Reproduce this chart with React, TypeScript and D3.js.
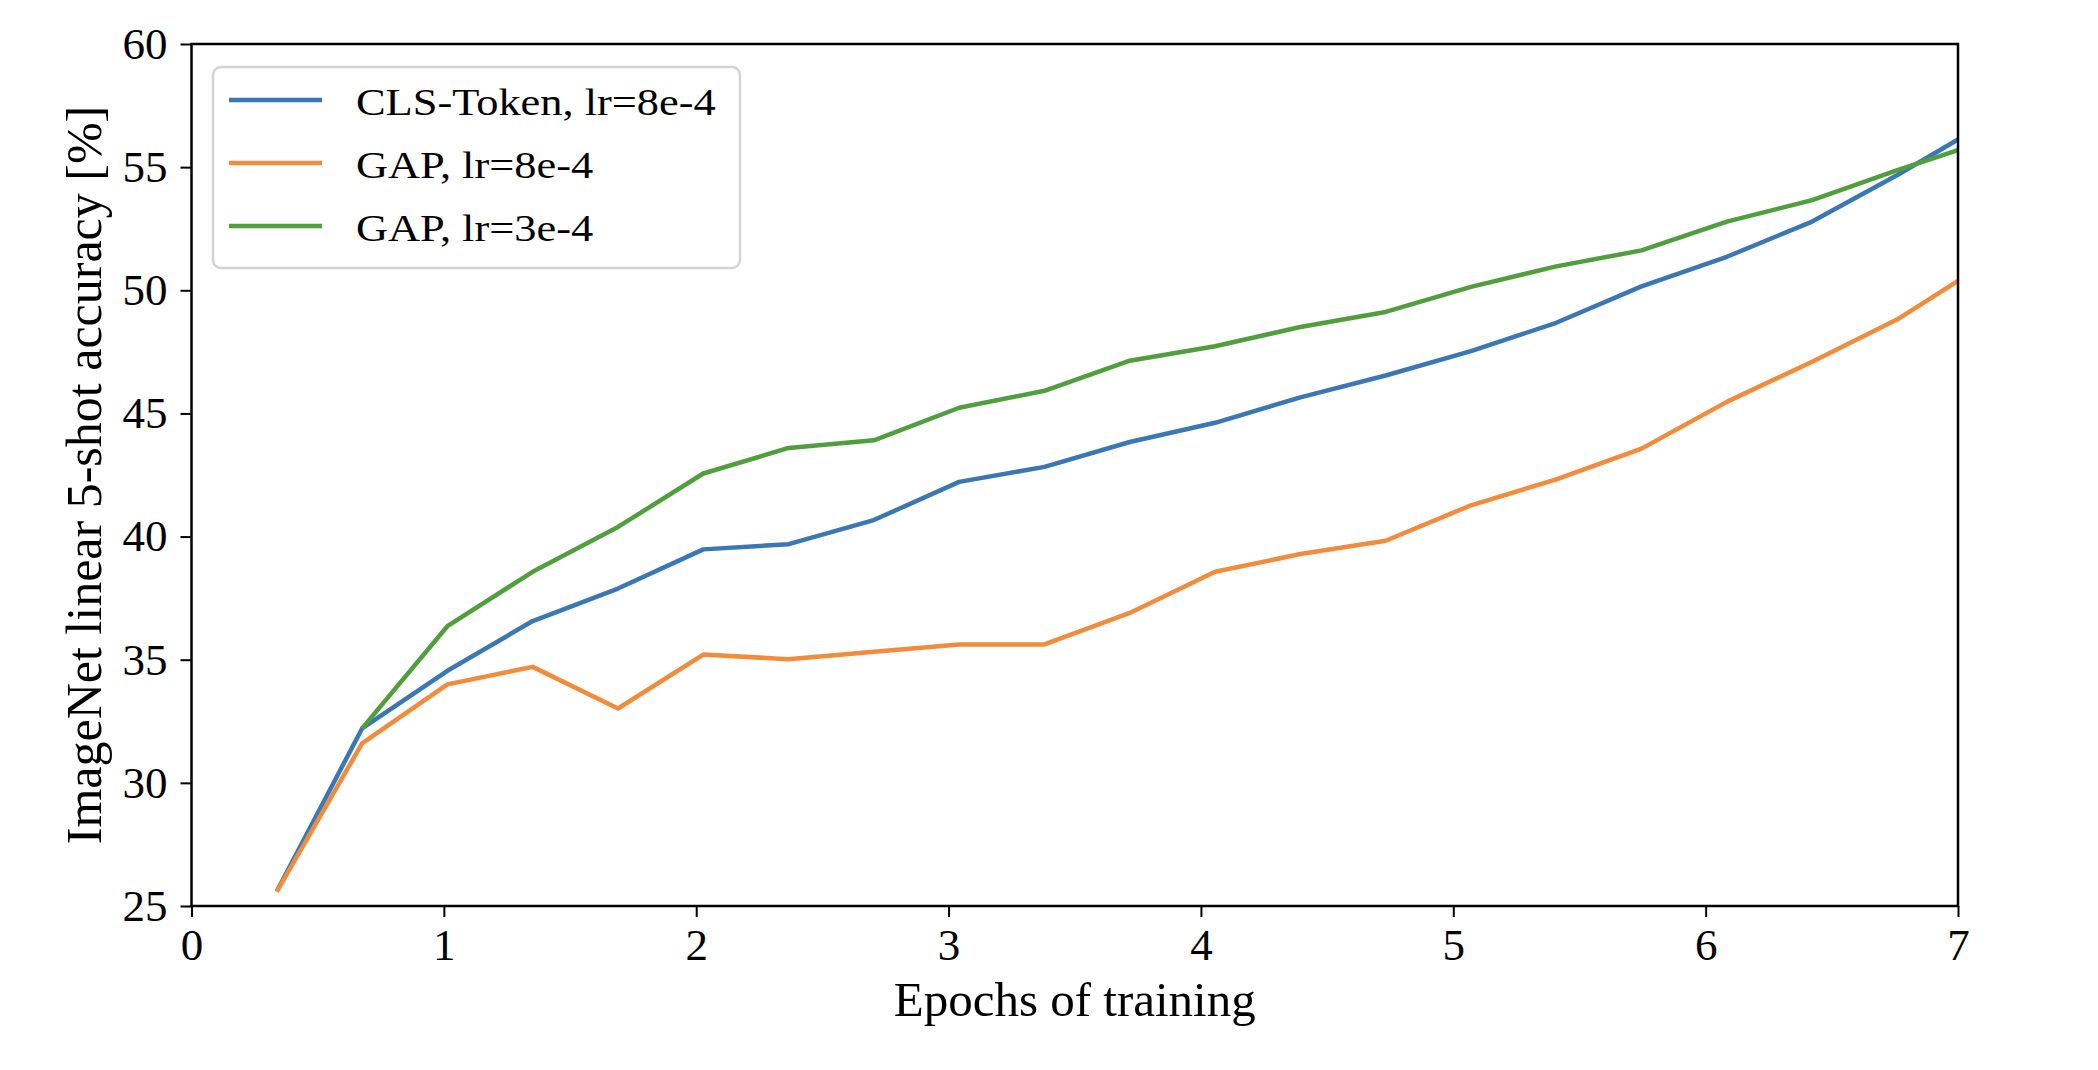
import { useRef, useEffect } from 'react'
import * as d3 from 'd3'

// evaluation points (epochs)
const epochs = [
  0.338, 0.676, 1.014, 1.352, 1.69, 2.028, 2.366, 2.704, 3.042, 3.38, 3.718,
  4.056, 4.394, 4.732, 5.07, 5.408, 5.746, 6.084, 6.422, 6.76, 7.0,
]

const clsToken8e4 = [
  25.6, 32.21, 34.55, 36.57, 37.89, 39.48, 39.69, 40.67, 42.22, 42.83, 43.84,
  44.62, 45.65, 46.54, 47.53, 48.68, 50.16, 51.36, 52.79, 54.68, 56.12,
]

const gap8e4 = [
  25.58, 31.6, 34.0, 34.71, 33.02, 35.21, 35.02, 35.32, 35.62, 35.62, 36.9,
  38.57, 39.29, 39.83, 41.27, 42.32, 43.57, 45.47, 47.1, 48.82, 50.38,
]

// first eval missing for this run
const gap3e4 = [
  null, 32.21, 36.36, 38.57, 40.39, 42.56, 43.6, 43.91, 45.23, 45.92, 47.14,
  47.73, 48.51, 49.12, 50.14, 50.97, 51.62, 52.79, 53.66, 54.88, 55.69,
]

const seriesNames = ['CLS-Token, lr=8e-4', 'GAP, lr=8e-4', 'GAP, lr=3e-4']
const seriesColors = ['#3b77b2', '#f28b3c', '#519e3e']

const xTicks = [0, 1, 2, 3, 4, 5, 6, 7]
const yTicks = [25, 30, 35, 40, 45, 50, 55, 60]

const W = 2098
const H = 1070
const FONT = '"Liberation Serif", "DejaVu Serif", serif'

export default function App() {
  const svgRef = useRef<SVGSVGElement>(null)

  useEffect(() => {
    if (!svgRef.current) return
    const svg = d3.select(svgRef.current)
    svg.selectAll('*').remove()

    const left = 191.5
    const right = 1958
    const top = 44
    const bottom = 906

    const x = d3.scaleLinear().domain([0, 7]).range([left, right])
    const y = d3.scaleLinear().domain([25, 60]).range([bottom, top])

    svg.append('rect').attr('width', W).attr('height', H).attr('fill', '#fff')

    // lines
    const allSeries = [clsToken8e4, gap8e4, gap3e4]
    const line = d3
      .line<number | null>()
      .defined((d) => d != null)
      .x((_, i) => x(epochs[i]))
      .y((d) => y(d as number))

    allSeries.forEach((s, i) => {
      svg
        .append('path')
        .datum(s)
        .attr('fill', 'none')
        .attr('stroke', seriesColors[i])
        .attr('stroke-width', 4.5)
        .attr('stroke-linejoin', 'round')
        .attr('stroke-linecap', 'butt')
        .attr('d', line)
    })

    // axes
    const xAxis = svg
      .append('g')
      .attr('transform', `translate(0,${bottom})`)
      .call(d3.axisBottom(x).tickValues(xTicks).tickSize(11).tickPadding(11).tickFormat(d3.format('d')))
    const yAxis = svg
      .append('g')
      .attr('transform', `translate(${left},0)`)
      .call(d3.axisLeft(y).tickValues(yTicks).tickSize(11).tickPadding(13).tickFormat(d3.format('d')))

    ;[xAxis, yAxis].forEach((g) => {
      g.select('.domain').remove()
      g.selectAll('.tick line').attr('stroke', '#000').attr('stroke-width', 2)
      g.selectAll('.tick text')
        .attr('fill', '#000')
        .style('font-family', FONT)
        .style('font-size', '45px')
    })

    // frame
    svg
      .append('rect')
      .attr('x', left)
      .attr('y', top)
      .attr('width', right - left)
      .attr('height', bottom - top)
      .attr('fill', 'none')
      .attr('stroke', '#000')
      .attr('stroke-width', 2.5)

    // axis labels
    svg
      .append('text')
      .attr('x', (left + right) / 2)
      .attr('y', 1016)
      .attr('text-anchor', 'middle')
      .style('font-family', FONT)
      .style('font-size', '49px')
      .text('Epochs of training')

    svg
      .append('text')
      .attr('transform', `translate(101,${(top + bottom) / 2}) rotate(-90)`)
      .attr('text-anchor', 'middle')
      .style('font-family', FONT)
      .style('font-size', '50px')
      .text('ImageNet linear 5-shot accuracy [%]')

    // legend
    const lg = svg.append('g')
    lg.append('rect')
      .attr('x', 213)
      .attr('y', 67)
      .attr('width', 527)
      .attr('height', 201)
      .attr('rx', 8)
      .attr('fill', '#fff')
      .attr('fill-opacity', 0.8)
      .attr('stroke', '#d4d4d4')
      .attr('stroke-width', 2.5)

    seriesNames.forEach((name, i) => {
      const ly = 100 + i * 63
      lg.append('line')
        .attr('x1', 229)
        .attr('x2', 322)
        .attr('y1', ly)
        .attr('y2', ly)
        .attr('stroke', seriesColors[i])
        .attr('stroke-width', 4.5)
      lg.append('text')
        .attr('transform', `translate(356,${ly + 14.5}) scale(1.2,1)`)
        .style('font-family', FONT)
        .style('font-size', '37px')
        .text(name)
    })
  }, [])

  return (
    <svg
      ref={svgRef}
      width={W}
      height={H}
      style={{ position: 'absolute', left: 0, top: 0, display: 'block' }}
    />
  )
}
